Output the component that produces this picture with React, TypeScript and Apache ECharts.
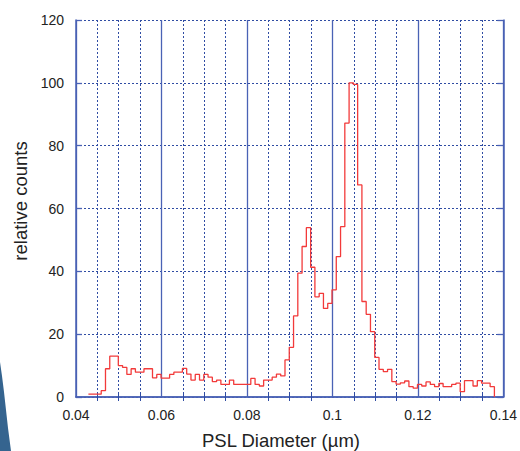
import React, { useEffect, useRef } from "react";
import * as echarts from "echarts";

// Histogram bins (PSL diameter, µm)
const binStart = 0.0429;
const binWidth = 0.001;
const counts = [
  0.9, 0.9, 0.9, 2, 9, 13, 13, 10, 9.4, 7.2,
  9, 7.9, 7.9, 9, 9, 6.1, 7.2, 6, 6, 7.2,
  7.9, 7.9, 9.1, 7.3, 5.4, 7.2, 5.4, 7.2, 6.3, 4.9,
  5.4, 4, 4, 5.4, 4, 4, 4, 4, 5.9, 4,
  3.5, 5.4, 5.4, 6.3, 7.3, 6.7, 11.8, 15.8, 25.8, 39.4,
  47.9, 53.9, 41.3, 31.9, 33, 28.2, 29.8, 34.1, 44.7, 54.2,
  87.2, 100, 99.5, 67.5, 30.4, 26.3, 20.8, 12.6, 8.8, 8.1,
  8.8, 4.9, 4.1, 4.5, 5.1, 3.3, 2.8, 4, 3.5, 4.8,
  4, 3.3, 4.3, 3.3, 3.3, 4, 4.4, 1.7, 5.2, 5.2,
  3.5, 5.2, 4.4, 4.4, 3.3,
];
const xTicks = [0.04, 0.14, 0.02];
const yTicks = [0, 120, 20];
const xTitle = "PSL Diameter (µm)";
const yTitle = "relative counts";

const FONT = "'Liberation Sans', Arial, sans-serif";
const SOLID = "#4a62b5";
const DOT = "#2f4ca3";

export default function App() {
  const ref = useRef<HTMLDivElement>(null);
  useEffect(() => {
    if (!ref.current) return;
    const chart = echarts.init(ref.current, null, { renderer: "svg" });
    const pts: number[][] = counts.map((v, i) => [binStart + i * binWidth, v]);
    const endX = binStart + counts.length * binWidth;
    pts.push([endX, counts[counts.length - 1]]);
    pts.push([endX, 0]);

    const baseX = {
      type: "value",
      min: xTicks[0],
      max: xTicks[1],
      interval: xTicks[2],
    };
    chart.setOption({
      animation: false,
      grid: { left: 76, top: 20, width: 430, height: 377 },
      xAxis: [
        {
          ...baseX,
          position: "bottom",
          axisLine: { show: true, lineStyle: { color: SOLID, width: 1.5 } },
          axisTick: { show: false },
          minorTick: { show: true, splitNumber: 4, length: 4, lineStyle: { color: DOT, width: 1 } },
          axisLabel: { color: "#222", fontSize: 14, fontFamily: FONT, margin: 11 },
          splitLine: { show: true, lineStyle: { color: SOLID, width: 1.3 } },
          minorSplitLine: { show: true, lineStyle: { color: DOT, width: 1, type: [2, 2] } },
        },
        {
          ...baseX,
          position: "top",
          axisLine: { show: true, lineStyle: { color: SOLID, width: 1.5 } },
          axisTick: { show: false },
          minorTick: { show: true, splitNumber: 4, length: 4, lineStyle: { color: DOT, width: 1 } },
          axisLabel: { show: false },
          splitLine: { show: false },
        },
      ],
      yAxis: [
        {
          type: "value",
          min: yTicks[0],
          max: yTicks[1],
          interval: yTicks[2],
          position: "left",
          axisLine: { show: true, lineStyle: { color: SOLID, width: 1.5 } },
          axisTick: { show: true, inside: true, length: 6, lineStyle: { color: SOLID, width: 1.3 } },
          axisLabel: { color: "#222", fontSize: 14, fontFamily: FONT, margin: 12 },
          splitLine: { show: true, lineStyle: { color: DOT, width: 1, type: [2, 2] } },
        },
        {
          type: "value",
          min: yTicks[0],
          max: yTicks[1],
          interval: yTicks[2],
          position: "right",
          axisLine: { show: true, lineStyle: { color: SOLID, width: 1.5 } },
          axisTick: { show: true, inside: true, length: 6, lineStyle: { color: SOLID, width: 1.3 } },
          axisLabel: { show: false },
          splitLine: { show: false },
        },
      ],
      series: [
        {
          type: "line",
          step: "end",
          data: pts,
          showSymbol: false,
          symbol: "none",
          lineStyle: { color: "#f23a3a", width: 1.3 },
          z: 5,
        },
      ],
      graphic: [
        {
          type: "text",
          x: 281,
          y: 440,
          style: {
            text: xTitle,
            fontSize: 18.5,
            fontFamily: FONT,
            fill: "#222",
            textAlign: "center",
            textVerticalAlign: "middle",
          },
        },
        {
          type: "text",
          x: 20,
          y: 201,
          rotation: Math.PI / 2,
          style: {
            text: yTitle,
            fontSize: 18.5,
            fontFamily: FONT,
            fill: "#222",
            textAlign: "center",
            textVerticalAlign: "middle",
          },
        },
        {
          type: "polygon",
          shape: {
            points: [
              [0, 362],
              [2, 376],
              [4, 392],
              [6, 410],
              [8, 428],
              [11, 451],
              [0, 451],
            ],
          },
          style: { fill: "#35648f" },
        },
      ],
    });
    return () => chart.dispose();
  }, []);
  return (
    <div
      ref={ref}
      style={{ position: "fixed", left: 0, top: 0, width: 520, height: 451, background: "#fff" }}
    />
  );
}
